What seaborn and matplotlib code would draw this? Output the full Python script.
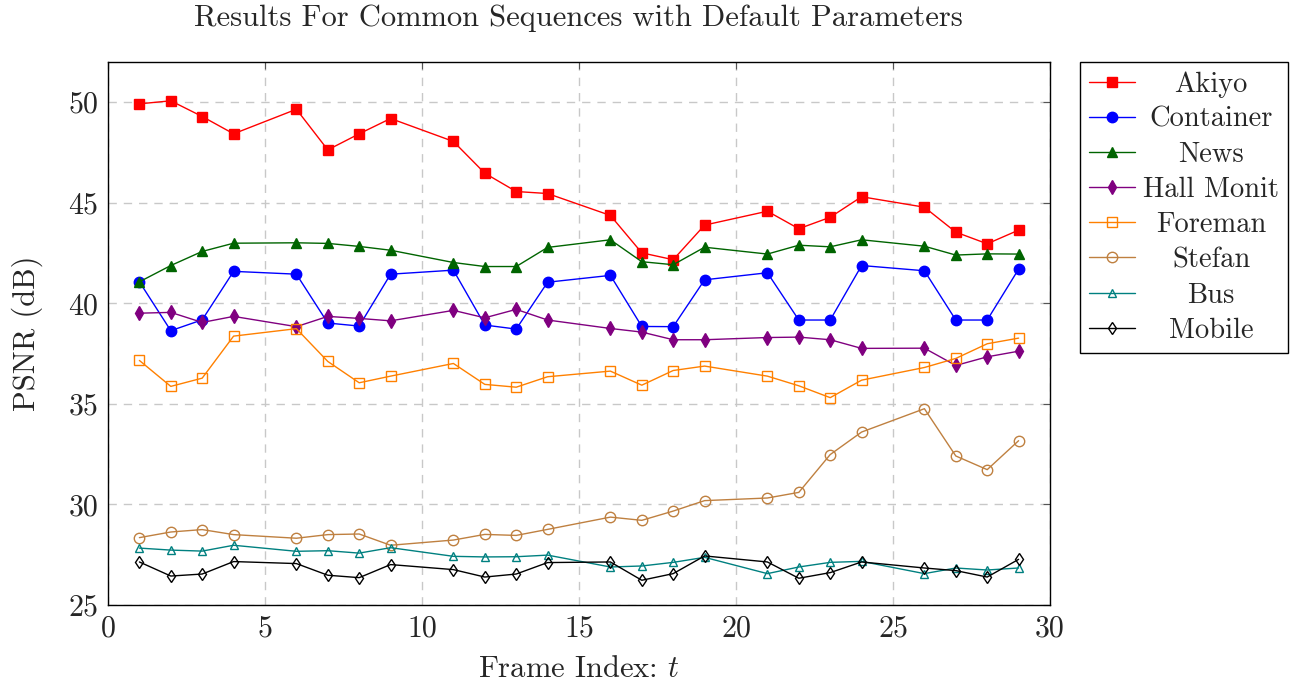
import numpy as np
import pandas as pd
import seaborn as sns
import matplotlib
matplotlib.use("Agg")
import matplotlib.pyplot as plt

frames = [1, 2, 3, 4, 6, 7, 8, 9, 11, 12, 13, 14, 16, 17, 18, 19, 21, 22, 23, 24, 26, 27, 28, 29]

akiyo = [49.92, 50.07, 49.29, 48.43, 49.65, 47.63, 48.43, 49.19, 48.05, 46.47, 45.56, 45.46,
         44.37, 42.51, 42.17, 43.89, 44.58, 43.71, 44.28, 45.30, 44.78, 43.54, 42.96, 43.64]
container = [41.07, 38.64, 39.18, 41.59, 41.45, 39.02, 38.87, 41.45, 41.65, 38.92, 38.72, 41.05,
             41.39, 38.85, 38.84, 41.17, 41.52, 39.17, 39.17, 41.88, 41.62, 39.17, 39.17, 41.70]
news = [41.07, 41.88, 42.58, 42.99, 43.01, 42.98, 42.83, 42.64, 42.03, 41.83, 41.83, 42.78,
        43.16, 42.07, 41.92, 42.79, 42.45, 42.89, 42.81, 43.16, 42.84, 42.40, 42.46, 42.45]
hall_monit = [39.51, 39.55, 39.05, 39.35, 38.84, 39.35, 39.25, 39.13, 39.65, 39.28, 39.70, 39.17,
              38.75, 38.57, 38.19, 38.19, 38.30, 38.32, 38.19, 37.76, 37.77, 36.91, 37.34, 37.62]
foreman = [37.16, 35.87, 36.28, 38.37, 38.74, 37.11, 36.05, 36.38, 37.01, 35.97, 35.83, 36.35,
           36.63, 35.93, 36.66, 36.88, 36.38, 35.90, 35.31, 36.18, 36.81, 37.26, 37.99, 38.27]
stefan = [28.35, 28.63, 28.75, 28.50, 28.32, 28.50, 28.53, 27.97, 28.23, 28.51, 28.46, 28.76,
          29.37, 29.21, 29.67, 30.19, 30.32, 30.60, 32.48, 33.60, 34.76, 32.41, 31.73, 33.17]
bus = [27.83, 27.73, 27.68, 27.97, 27.67, 27.70, 27.58, 27.85, 27.42, 27.39, 27.40, 27.48,
       26.89, 26.94, 27.12, 27.37, 26.56, 26.89, 27.12, 27.17, 26.56, 26.84, 26.74, 26.84]
mobile = [27.14, 26.44, 26.54, 27.16, 27.06, 26.48, 26.36, 27.01, 26.76, 26.39, 26.54, 27.11,
          27.14, 26.23, 26.56, 27.44, 27.14, 26.33, 26.61, 27.14, 26.84, 26.71, 26.39, 27.27]

series_names = ["Akiyo", "Container", "News", "Hall Monit", "Foreman", "Stefan", "Bus", "Mobile"]
series_values = [akiyo, container, news, hall_monit, foreman, stefan, bus, mobile]

x_ticks = [0, 5, 10, 15, 20, 25, 30]
y_ticks = [25, 30, 35, 40, 45, 50]

title_text = "Results For Common Sequences with Default Parameters"
x_label = "Frame Index: $t$"
y_label = "PSNR (dB)"

styles = {
    "Akiyo": dict(color="#ff0000", marker="s", ms=7, mfc="#ff0000"),
    "Container": dict(color="#0000ff", marker="o", ms=7.5, mfc="#0000ff"),
    "News": dict(color="#006400", marker="^", ms=7, mfc="#006400"),
    "Hall Monit": dict(color="#800080", marker="d", ms=7, mfc="#800080"),
    "Foreman": dict(color="#ff8000", marker="s", ms=7, mfc="none"),
    "Stefan": dict(color="#bf8040", marker="o", ms=7.5, mfc="none"),
    "Bus": dict(color="#008080", marker="^", ms=6, mfc="none"),
    "Mobile": dict(color="#000000", marker="d", ms=6, mfc="none"),
}

sns.set_theme(style="white")
plt.rcParams["font.family"] = ["cmr10", "DejaVu Serif"]
plt.rcParams["mathtext.fontset"] = "cm"
plt.rcParams["axes.formatter.use_mathtext"] = True
plt.rcParams["axes.unicode_minus"] = False

df = pd.DataFrame({"frame": np.tile(frames, len(series_names)),
                   "psnr": np.concatenate(series_values),
                   "seq": np.repeat(series_names, len(frames))})

fig = plt.figure(figsize=(12.94, 6.85), dpi=100)
ax = fig.add_axes([108 / 1294, 80 / 685, 942 / 1294, 543 / 685])

for name in series_names:
    st = styles[name]
    sub = df[df["seq"] == name]
    sns.lineplot(data=sub, x="frame", y="psnr", ax=ax, color=st["color"], marker=st["marker"],
                 markersize=st["ms"], markerfacecolor=st["mfc"], markeredgecolor=st["color"],
                 markeredgewidth=1.0, linewidth=1.0, label=name, estimator=None, sort=False)

ax.set_xlim(0, 30)
ax.set_ylim(25, 52)
ax.set_xticks(x_ticks)
ax.set_yticks(y_ticks)
ax.set_xticklabels([str(t) for t in x_ticks])
ax.set_yticklabels([str(t) for t in y_ticks])
ax.tick_params(axis="both", which="major", direction="in", length=5, width=0.8,
               top=True, right=True, labelsize=21.5, color="#555555", pad=7)
ax.grid(True, which="major", linestyle=(0, (6, 5)), color="#c8c8c8", linewidth=1.0)
for sp in ax.spines.values():
    sp.set_color("black")
    sp.set_linewidth(1.0)

ax.set_xlabel(x_label, fontsize=22, labelpad=10)
ax.set_ylabel(y_label, fontsize=22, labelpad=18)
fig.text(578 / 1294, 1 - 18 / 685, title_text, ha="center", va="center", fontsize=22)

handles, labels = ax.get_legend_handles_labels()
leg = fig.legend(handles, labels, loc="upper left", bbox_to_anchor=(1080 / 1294, 1 - 62 / 685),
                 fontsize=20.5, frameon=True, fancybox=False, framealpha=1, edgecolor="black",
                 handlelength=1.6, handletextpad=0.3, labelspacing=0.31, borderpad=0.32,
                 borderaxespad=0)
leg.get_frame().set_linewidth(1.0)
if ax.get_legend() is not None:
    ax.get_legend().remove()

# center the legend labels within their column
fig.canvas.draw()
renderer = fig.canvas.get_renderer()
widths = [t.get_window_extent(renderer).width for t in leg.get_texts()]
maxw = max(widths)
for t, w in zip(leg.get_texts(), widths):
    t.set_x((maxw - w) / 2)

fig.savefig("out.png", dpi=100)
